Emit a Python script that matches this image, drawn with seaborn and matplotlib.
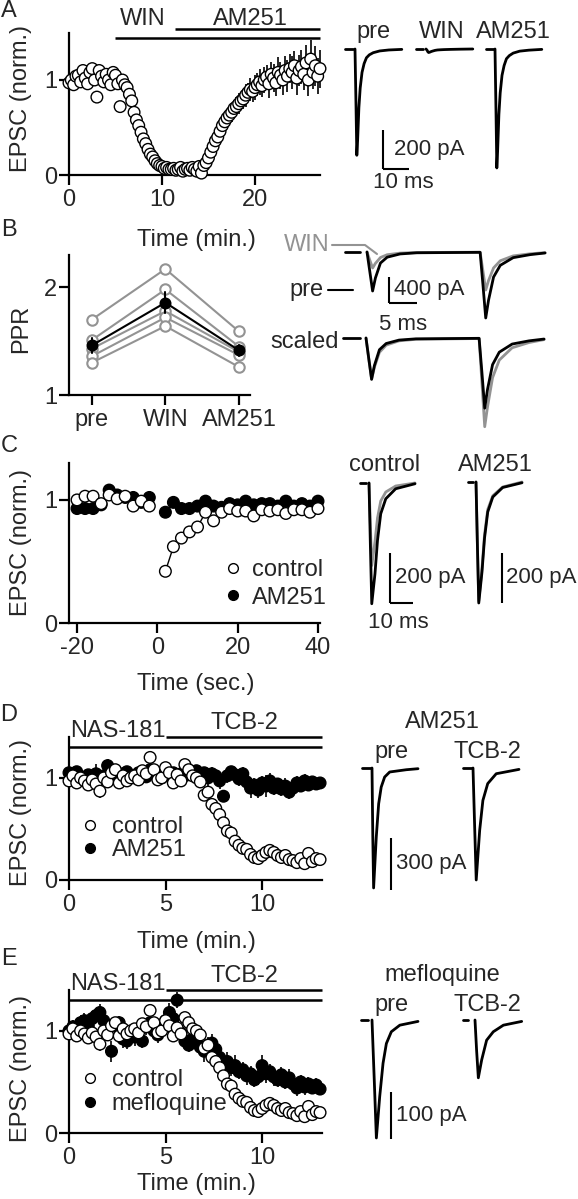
import numpy as np
import pandas as pd
import seaborn as sns
import matplotlib.pyplot as plt
from matplotlib.lines import Line2D

# --- Figure geometry (pixels at 100 dpi) ---
W, H = 578, 1199
FS = 17
FS_BAR = 16  # scale-bar labels
GRAY = '#939393'

# --- Panel A: WIN 55,212-2 then AM251, normalised EPSC, one sweep every 15 s ---
A_DT = 0.25
A_EPSC = [
    0.97, 1.00, 0.95, 1.04,  1.05, 0.98, 1.10, 1.02,  0.96, 1.08, 1.12, 1.00,
    0.82, 1.10, 1.04, 0.98,  1.06, 1.00, 0.95, 1.08,  1.05, 0.96, 0.72, 1.00,
    0.95, 0.92, 0.85, 0.78,  0.66, 0.58, 0.52, 0.45,  0.38, 0.33, 0.27, 0.22,
    0.19, 0.15, 0.12, 0.10,  0.09, 0.07, 0.08, 0.06,  0.06, 0.07, 0.05, 0.06,
    0.08, 0.04, 0.06, 0.07,  0.05, 0.08, 0.06, 0.04,  0.09, 0.02, 0.10, 0.13,
    0.18, 0.24, 0.30, 0.36,  0.40, 0.46, 0.52, 0.56,  0.60, 0.63, 0.66, 0.70,
    0.72, 0.75, 0.78, 0.80,  0.84, 0.87, 0.90, 0.88,  0.92, 0.95, 0.98, 0.94,
    1.00, 1.03, 0.96, 1.06,  1.02, 0.97, 1.08, 1.05,  1.00, 1.10, 1.04, 1.12,
    1.08, 1.15, 1.02, 1.10,  1.14, 1.06, 1.18, 1.00,  1.22, 1.08, 1.15, 1.04,
    1.12,
]
A_SEM = [
    0.04, 0.05, 0.04, 0.05,  0.04, 0.05, 0.04, 0.05,  0.05, 0.04, 0.05, 0.04,
    0.05, 0.04, 0.05, 0.04,  0.05, 0.04, 0.05, 0.04,  0.05, 0.04, 0.06, 0.04,
    0.04, 0.04, 0.04, 0.03,  0.03, 0.03, 0.03, 0.03,  0.03, 0.03, 0.02, 0.02,
    0.02, 0.02, 0.02, 0.02,  0.02, 0.02, 0.02, 0.02,  0.02, 0.02, 0.02, 0.02,
    0.02, 0.02, 0.02, 0.02,  0.02, 0.02, 0.02, 0.02,  0.02, 0.02, 0.03, 0.03,
    0.04, 0.05, 0.06, 0.05,  0.07, 0.06, 0.08, 0.07,  0.09, 0.08, 0.10, 0.09,
    0.10, 0.11, 0.09, 0.11,  0.12, 0.10, 0.12, 0.11,  0.13, 0.12, 0.14, 0.12,
    0.14, 0.13, 0.15, 0.13,  0.15, 0.14, 0.16, 0.14,  0.16, 0.15, 0.17, 0.15,
    0.17, 0.16, 0.18, 0.16,  0.18, 0.17, 0.19, 0.17,  0.20, 0.18, 0.21, 0.19,
    0.20,
]
A_WIN_ON = 4.95
A_AM251_ON = 11.4
A_END = 27.0

# --- Panel B: paired-pulse ratio, five cells ---
PPR_COND = ['pre', 'WIN', 'AM251']
PPR_PRE = [1.70, 1.51, 1.43, 1.36, 1.30]
PPR_WIN = [2.17, 1.98, 1.78, 1.72, 1.64]
PPR_AM251 = [1.59, 1.45, 1.40, 1.37, 1.26]

# --- Panel C: DSE, time in seconds around the depolarisation ---
C_T_PRE = [-20, -18, -16, -14, -12, -10, -8, -6, -4, -2]
C_T_POST = [2, 4, 6, 8, 10, 12, 14, 16, 18, 20, 22, 24, 26, 28, 30, 32, 34, 36, 38, 40]
C_CTRL_PRE = [1.00, 1.03, 1.03, 0.97, 1.04, 1.01, 1.03, 0.95, 0.99, 0.95]
C_AM_PRE = [0.93, 0.93, 0.93, 0.96, 1.08, 1.04, 1.02, 1.02, 0.98, 1.02]
C_CTRL_POST = [0.42, 0.62, 0.69, 0.74, 0.78, 0.90, 0.83, 0.90, 0.93, 0.91,
               0.91, 0.87, 0.92, 0.91, 0.92, 0.89, 0.92, 0.92, 0.90, 0.93]
C_AM_POST = [0.90, 0.98, 0.93, 0.93, 0.95, 0.99, 0.95, 0.94, 0.97, 0.96,
             0.99, 0.96, 0.97, 0.97, 0.95, 0.99, 0.95, 0.97, 0.95, 0.99]

# --- Panels D/E: NAS-181 then TCB-2, one sweep every 12 s ---
DE_DT = 0.2
TCB_ON = 5.0
DE_END = 13.1
CTRL_EPSC = [
    0.97, 1.02, 0.95, 1.00, 0.97, 0.93, 0.98, 0.94, 0.87, 1.00,
    0.96, 1.05, 1.08, 0.95, 1.02, 0.97, 1.00, 1.02, 0.98, 1.07,
    1.04, 1.20, 1.08, 0.98, 1.00, 1.10, 1.05, 0.95, 1.03, 0.97,
    1.13, 1.08, 1.02, 1.00, 0.96, 0.83, 0.86, 0.74, 0.70, 0.64,
    0.56, 0.48, 0.46, 0.38, 0.34, 0.31, 0.30, 0.25, 0.22, 0.21,
    0.24, 0.27, 0.29, 0.27, 0.24, 0.22, 0.24, 0.20, 0.19, 0.17,
    0.21, 0.16, 0.26, 0.18, 0.21, 0.20,
]
CTRL_SEM = [
    0.04, 0.05, 0.04, 0.06, 0.05, 0.05, 0.04, 0.06, 0.07, 0.05,
    0.05, 0.06, 0.05, 0.04, 0.05, 0.05, 0.04, 0.05, 0.04, 0.05,
    0.05, 0.06, 0.05, 0.04, 0.05, 0.05, 0.04, 0.05, 0.04, 0.05,
    0.05, 0.04, 0.04, 0.04, 0.04, 0.05, 0.04, 0.04, 0.04, 0.03,
    0.04, 0.03, 0.03, 0.03, 0.03, 0.03, 0.03, 0.03, 0.03, 0.03,
    0.03, 0.03, 0.03, 0.03, 0.03, 0.03, 0.03, 0.03, 0.03, 0.03,
    0.03, 0.03, 0.03, 0.03, 0.03, 0.03,
]
D_AM251 = [
    1.05, 1.02, 1.06, 1.00, 0.98, 1.03, 0.97, 1.04, 1.00, 1.02,
    1.12, 1.06, 1.03, 1.00, 1.04, 1.06, 1.02, 1.00, 1.05, 1.03,
    1.01, 1.08, 1.04, 1.02, 1.00, 1.06, 1.03, 1.05, 1.00, 1.04,
    1.02, 1.06, 1.04, 1.07, 1.03, 1.05, 1.00, 1.04, 1.02, 0.97,
    0.82, 1.02, 1.06, 1.03, 0.99, 1.04, 0.96, 0.90, 0.93, 0.88,
    0.95, 0.92, 0.97, 0.90, 0.94, 0.89, 0.92, 0.86, 0.90, 0.95,
    0.92, 0.97, 0.93, 0.96, 0.94, 0.95,
]
D_AM251_SEM = [
    0.05, 0.06, 0.05, 0.08, 0.06, 0.05, 0.07, 0.10, 0.06, 0.05,
    0.06, 0.05, 0.07, 0.05, 0.06, 0.05, 0.06, 0.05, 0.07, 0.05,
    0.06, 0.05, 0.08, 0.05, 0.06, 0.05, 0.06, 0.05, 0.07, 0.06,
    0.06, 0.05, 0.07, 0.06, 0.09, 0.06, 0.10, 0.07, 0.06, 0.08,
    0.06, 0.07, 0.06, 0.08, 0.07, 0.07, 0.08, 0.10, 0.07, 0.08,
    0.07, 0.11, 0.08, 0.07, 0.06, 0.07, 0.08, 0.07, 0.06, 0.07,
    0.06, 0.07, 0.06, 0.05, 0.06, 0.05,
]
E_MEFLO = [
    1.00, 1.04, 0.98, 1.08, 1.10, 1.05, 1.12, 1.15, 1.18, 1.10,
    1.02, 0.80, 1.05, 1.08, 0.92, 0.90, 0.98, 0.94, 1.02, 0.90,
    1.04, 1.08, 1.00, 0.96, 1.02, 1.10, 1.18, 1.12, 1.30, 0.98,
    0.90, 0.86, 0.92, 0.88, 0.84, 0.80, 0.86, 0.88, 0.82, 0.74,
    0.68, 0.70, 0.64, 0.66, 0.60, 0.62, 0.56, 0.58, 0.52, 0.55,
    0.66, 0.58, 0.60, 0.55, 0.52, 0.57, 0.50, 0.54, 0.48, 0.44,
    0.50, 0.45, 0.48, 0.44, 0.47, 0.43,
]
E_MEFLO_SEM = [
    0.06, 0.07, 0.06, 0.08, 0.07, 0.09, 0.07, 0.06, 0.08, 0.07,
    0.07, 0.10, 0.08, 0.07, 0.09, 0.08, 0.07, 0.09, 0.08, 0.07,
    0.08, 0.09, 0.07, 0.08, 0.07, 0.08, 0.09, 0.10, 0.08, 0.07,
    0.08, 0.07, 0.09, 0.08, 0.07, 0.10, 0.08, 0.09, 0.10, 0.08,
    0.07, 0.09, 0.08, 0.10, 0.07, 0.08, 0.09, 0.08, 0.07, 0.08,
    0.10, 0.09, 0.08, 0.09, 0.07, 0.08, 0.07, 0.09, 0.07, 0.08,
    0.07, 0.08, 0.07, 0.06, 0.07, 0.06,
]

# --- Example traces (time in ms from stimulus, current in pA) ---
A_TR_T = [0, 0.4, 0.7, 1.0, 1.5, 2.0, 2.7, 3.5, 4.4, 5.5, 7.0, 9.5, 13, 18]
A_TR_PRE = [0, -300, -545, -470, -300, -200, -120, -75, -45, -30, -19, -10, -5, -2]
A_TR_WIN = [0, -6, -14, -18, -16, -13, -10, -7, -5, -4, -3, -2, -1, 0]
A_TR_AM251 = [0, -335, -610, -525, -335, -225, -135, -85, -50, -34, -21, -11, -6, -2]

B_TR_T = [0, 0.5, 1.0, 1.5, 2.4, 3.6, 5.9, 8.9, 20.2, 20.7, 21.2, 21.7, 22.6, 23.8, 26.1, 29.1, 31.8]
B_TR_PRE = [0, -300, -600, -400, -170, -80, -30, -12, -5, -500, -1015, -743, -385, -205, -87, -41, -15]
B_TR_WIN = [0, -125, -246, -175, -85, -42, -17, -8, -3, -290, -585, -440, -245, -135, -60, -28, -10]
B_TR_PRE_SC = [0, -320, -635, -425, -180, -85, -32, -13, -5, -530, -1080, -790, -410, -218, -93, -44, -16]
B_TR_WIN_SC = [0, -325, -635, -450, -220, -110, -44, -20, -8, -690, -1365, -1060, -610, -340, -150, -70, -25]

C_TR_T = [0, 0.6, 1.2, 2.6, 3.7, 5.1, 7.3, 11.6, 20]
C_TR_CTRL_PRE = [0, -250, -483, -363, -229, -123, -63, -23, -3]
C_TR_CTRL_POST = [0, -170, -330, -235, -140, -72, -36, -12, 0]
C_TR_AM_PRE = [0, -250, -484, -360, -225, -120, -60, -22, -3]
C_TR_AM_POST = [0, -245, -476, -345, -212, -110, -55, -20, 0]

D_TR_PRE_T = [0, 0.35, 0.7, 1.86, 2.9, 4.0, 5.5, 7.7, 14.9, 20]
D_TR_PRE = [0, -400, -692, -398, -206, -110, -52, -23, -10, -4]
D_TR_TCB_T = [0, 0.7, 1.4, 2.9, 4.3, 6.4, 10.1, 20]
D_TR_TCB = [0, -330, -646, -360, -187, -90, -33, -8]

E_TR_PRE_T = [0, 1.0, 1.9, 3.35, 4.8, 6.25, 8.4, 12.1, 20]
E_TR_PRE = [0, -130, -251, -163, -92, -50, -25, -11, -3]
E_TR_TCB_T = [0, 0.7, 1.45, 2.9, 5.05, 7.95, 12.35, 20.3]
E_TR_TCB = [0, -65, -123, -85, -43, -25, -11, -3]


def px_axes(fig, l, t, r, b):
    return fig.add_axes([l / W, 1 - b / H, (r - l) / W, (b - t) / H])


def fig_text(fig, x, y, s, ha='center', va='center', size=FS, **kw):
    fig.text(x / W, 1 - y / H, s, ha=ha, va=va, fontsize=size, **kw)


def style_axes(ax):
    sns.despine(ax=ax)
    for side in ('left', 'bottom'):
        ax.spines[side].set_linewidth(1.6)
    ax.tick_params(length=7.5, width=1.6, labelsize=FS, color='black')
    ax.tick_params(axis='x', pad=2.5)
    ax.tick_params(axis='y', pad=1)


def set_labels(fig, ax, xlabel, xpos, ylabel, ypos):
    ax.set_xlabel(xlabel or '', fontsize=FS, va='center')
    if xlabel:
        ax.xaxis.set_label_coords(xpos[0] / W, 1 - xpos[1] / H, transform=fig.transFigure)
    ax.set_ylabel(ylabel, fontsize=FS, va='center')
    ax.yaxis.set_label_coords(ypos[0] / W, 1 - ypos[1] / H, transform=fig.transFigure)


def drug_bar(ax, x0, x1, y):
    ax.plot([x0, x1], [y, y], color='black', lw=1.8, clip_on=False, solid_capstyle='butt')


def timecourse(ax, df, palette, order):
    for grp in order:
        sub = df[df['group'] == grp]
        ax.errorbar(sub['time'], sub['epsc'], yerr=sub['sem'], fmt='none', ecolor='black',
                    elinewidth=1.2, capsize=0, zorder=1, clip_on=False)
    sns.scatterplot(data=df, x='time', y='epsc', hue='group', hue_order=order, palette=palette,
                    edgecolor='black', linewidth=1.0, s=70, legend=False, clip_on=False,
                    zorder=3, ax=ax)


def add_legend(fig, ax, labels, anchor, pad, spacing):
    handles = [Line2D([], [], ls='', marker='o', ms=7, mfc=fc, mec='black', mew=1.0)
               for fc in ('white', 'black')]
    ax.legend(handles, labels, loc='upper left', bbox_to_anchor=(anchor[0] / W, 1 - anchor[1] / H),
              bbox_transform=fig.transFigure, frameon=False, fontsize=FS, handlelength=1.0,
              handletextpad=pad, labelspacing=spacing, borderpad=0, borderaxespad=0)


class TracePanel:
    """Invisible axes whose data units are ms and pA, placed by pixel origin."""

    def __init__(self, fig, rect, origin, ms_px, pa_px):
        l, t, r, b = rect
        self.ax = px_axes(fig, l, t, r, b)
        self.ox, self.oy = origin
        self.ms, self.pa = ms_px, pa_px
        self.ax.set_xlim((l - self.ox) * ms_px, (r - self.ox) * ms_px)
        self.ax.set_ylim((self.oy - b) * pa_px, (self.oy - t) * pa_px)
        self.ax.axis('off')

    def t(self, x):
        return (x - self.ox) * self.ms

    def i(self, y):
        return (self.oy - y) * self.pa

    def trace(self, t, cur, x, y, dash=None, color='black'):
        t0, i0 = self.t(x), self.i(y)
        sns.lineplot(x=np.asarray(t, float) + t0, y=np.asarray(cur, float) + i0, sort=False,
                     estimator=None, color=color, linewidth=2.0, ax=self.ax)
        if dash:
            self.ax.plot([self.t(x + dash[0]), self.t(x + dash[1])], [i0, i0], color='black', lw=2.0)

    def scalebar(self, x, y, pa, ms=None):
        t0, i0 = self.t(x), self.i(y)
        self.ax.plot([t0, t0], [i0, i0 + pa], color='black', lw=1.5, solid_capstyle='butt')
        if ms:
            self.ax.plot([t0, t0 + ms], [i0, i0], color='black', lw=1.5, solid_capstyle='butt')

    def polyline(self, pts, color):
        self.ax.plot([self.t(p[0]) for p in pts], [self.i(p[1]) for p in pts], color=color, lw=1.5)


sns.set_style('ticks')
plt.rcParams['font.family'] = ['Liberation Sans', 'DejaVu Sans']
plt.rcParams['axes.edgecolor'] = 'black'
plt.rcParams['axes.unicode_minus'] = False

fig = plt.figure(figsize=(W / 100, H / 100), dpi=100)

# ---------------- A ----------------
ax = px_axes(fig, 69, 32.5, 320, 175)
a_df = pd.DataFrame({'time': np.arange(len(A_EPSC)) * A_DT, 'epsc': A_EPSC,
                     'sem': A_SEM, 'group': 'WIN'})
timecourse(ax, a_df, {'WIN': 'white'}, ['WIN'])
ax.set_xlim(0, 27)
ax.set_ylim(0, 1.5)
ax.set_xticks([0, 10, 20])
ax.set_yticks([0, 1])
style_axes(ax)
drug_bar(ax, A_WIN_ON, A_END, 1.44)
drug_bar(ax, A_AM251_ON, A_END, 1.54)
ax.text(7.96, 1.64, 'WIN', ha='center', va='center', fontsize=FS)
ax.text(19.5, 1.64, 'AM251', ha='center', va='center', fontsize=FS)
set_labels(fig, ax, 'Time (min.)', (196, 240), 'EPSC (norm.)', (21, 99))

tp = TracePanel(fig, (335, 0, 578, 215), (355, 49), 10 / 26, 200 / 39)
tp.trace(A_TR_T, A_TR_PRE, 355, 49, dash=(-10, -2))
tp.trace(A_TR_T, A_TR_WIN, 426, 49, dash=(-10, -3))
tp.trace(A_TR_T, A_TR_AM251, 495, 49, dash=(-9, -1))
tp.scalebar(383, 169, 200, 10)
fig_text(fig, 373, 32, 'pre')
fig_text(fig, 442, 32, 'WIN')
fig_text(fig, 513, 32, 'AM251')
fig_text(fig, 394, 149, '200 pA', ha='left', size=FS_BAR)
fig_text(fig, 403, 182, '10 ms', size=FS_BAR)

# ---------------- B ----------------
ax = px_axes(fig, 69, 255, 250, 395)
ppr_df = pd.DataFrame({
    'cell': list(range(5)) * 3,
    'pos': [0] * 5 + [1] * 5 + [2] * 5,
    'ppr': PPR_PRE + PPR_WIN + PPR_AM251,
})
sns.lineplot(data=ppr_df, x='pos', y='ppr', units='cell', estimator=None, color=GRAY,
             linewidth=1.5, marker='o', markersize=7.5, markerfacecolor='white',
             markeredgecolor=GRAY, markeredgewidth=1.5, ax=ax)
sns.pointplot(data=ppr_df, x='pos', y='ppr', native_scale=True, errorbar='se', color='black',
              markersize=7.5, linewidth=1.5, err_kws={'linewidth': 1.5}, ax=ax)
ax.set_xlim(-0.31, 2.15)
ax.set_ylim(1, 2.3)
ax.set_xticks([0, 1, 2], PPR_COND)
ax.set_yticks([1, 2])
style_axes(ax)
set_labels(fig, ax, None, None, 'PPR', (21, 329))

tp = TracePanel(fig, (260, 225, 578, 440), (367, 252), 5 / 28, 400 / 26)
tp.trace(B_TR_T, B_TR_WIN, 367, 252, color=GRAY)
tp.trace(B_TR_T, B_TR_PRE, 367, 252, dash=(-22, -7))
tp.trace(B_TR_T, B_TR_WIN_SC, 366, 338, color=GRAY)
tp.trace(B_TR_T, B_TR_PRE_SC, 366, 338, dash=(-23, -6))
tp.scalebar(389, 303, 400, 5)
tp.polyline([(332, 245), (365, 245), (377, 254)], GRAY)
tp.polyline([(328, 290), (353, 290)], 'black')
fig_text(fig, 330, 245, 'WIN', color=GRAY, ha='right')
fig_text(fig, 324, 290, 'pre', ha='right')
fig_text(fig, 339, 342, 'scaled', ha='right')
fig_text(fig, 394, 289, '400 pA', ha='left', size=FS_BAR)
fig_text(fig, 403, 324, '5 ms', size=FS_BAR)

# ---------------- C ----------------
ax = px_axes(fig, 69, 463, 320, 623)
c_df = pd.concat([
    pd.DataFrame({'time': C_T_PRE, 'epsc': C_AM_PRE, 'group': 'AM251', 'seg': 0}),
    pd.DataFrame({'time': C_T_POST, 'epsc': C_AM_POST, 'group': 'AM251', 'seg': 1}),
    pd.DataFrame({'time': C_T_PRE, 'epsc': C_CTRL_PRE, 'group': 'control', 'seg': 0}),
    pd.DataFrame({'time': C_T_POST, 'epsc': C_CTRL_POST, 'group': 'control', 'seg': 1}),
], ignore_index=True)
for _, sub in c_df.groupby(['group', 'seg']):
    sns.lineplot(data=sub, x='time', y='epsc', color='black', linewidth=1.0, sort=False,
                 estimator=None, zorder=1, ax=ax)
sns.scatterplot(data=c_df, x='time', y='epsc', hue='group', hue_order=['AM251', 'control'],
                palette={'AM251': 'black', 'control': 'white'}, edgecolor='black',
                linewidth=1.0, s=70, legend=False, clip_on=False, zorder=3, ax=ax)
ax.set_xlim(-22, 40.5)
ax.set_ylim(0, 1.3)
ax.set_xticks([-20, 0, 20, 40])
ax.set_yticks([0, 1])
style_axes(ax)
add_legend(fig, ax, ['control', 'AM251'], (221, 559), 0.3, 0.24)
set_labels(fig, ax, 'Time (sec.)', (196, 684), 'EPSC (norm.)', (21, 542))

tp = TracePanel(fig, (340, 450, 578, 640), (369, 483), 10 / 23, 200 / 50)
tp.trace(C_TR_T, C_TR_CTRL_POST, 369, 483, color=GRAY)
tp.trace(C_TR_T, C_TR_CTRL_PRE, 369, 483, dash=(-9, -3))
tp.trace(C_TR_T, C_TR_AM_POST, 476, 482, color=GRAY)
tp.trace(C_TR_T, C_TR_AM_PRE, 476, 482, dash=(-8, -3))
tp.scalebar(390, 603, 200, 10)
tp.scalebar(502, 603, 200)
fig_text(fig, 385, 465, 'control')
fig_text(fig, 495, 465, 'AM251')
fig_text(fig, 395, 577, '200 pA', ha='left', size=FS_BAR)
fig_text(fig, 506, 577, '200 pA', ha='left', size=FS_BAR)
fig_text(fig, 398, 623, '10 ms', size=FS_BAR)

# ---------------- D / E ----------------
de_time = np.arange(len(CTRL_EPSC)) * DE_DT
for name, drug, drug_epsc, drug_sem, top, label_y, leg_y, spacing, xlab_y in [
    ('D', 'AM251', D_AM251, D_AM251_SEM, 737, 812, 816, 0.05, 942),
    ('E', 'mefloquine', E_MEFLO, E_MEFLO_SEM, 990, 1069, 1069, 0.09, 1184),
]:
    ax = px_axes(fig, 69, top, 322, top + 143)
    df = pd.concat([
        pd.DataFrame({'time': de_time, 'epsc': drug_epsc, 'sem': drug_sem, 'group': drug}),
        pd.DataFrame({'time': de_time, 'epsc': CTRL_EPSC, 'sem': CTRL_SEM, 'group': 'control'}),
    ], ignore_index=True)
    timecourse(ax, df, {drug: 'black', 'control': 'white'}, [drug, 'control'])
    ax.set_xlim(0, DE_END)
    ax.set_ylim(0, 1.4)
    ax.set_xticks([0, 5, 10])
    ax.set_yticks([0, 1])
    style_axes(ax)
    drug_bar(ax, 0, DE_END, 1.30)
    drug_bar(ax, TCB_ON, DE_END, 1.40)
    ax.text(2.54, 1.46, 'NAS-181', ha='center', va='center', fontsize=FS)
    ax.text(9.1, 1.54, 'TCB-2', ha='center', va='center', fontsize=FS)
    add_legend(fig, ax, ['control', drug], (78, leg_y), 0.43, spacing)
    set_labels(fig, ax, 'Time (min.)', (196, xlab_y), 'EPSC (norm.)', (21, label_y))

tp = TracePanel(fig, (340, 700, 578, 910), (372, 768), 10 / 23, 300 / 52)
tp.trace(D_TR_PRE_T, D_TR_PRE, 372, 768, dash=(-10, -1))
tp.trace(D_TR_TCB_T, D_TR_TCB, 473, 768, dash=(-10, -1))
tp.scalebar(391, 890, 300)
fig_text(fig, 442, 722, 'AM251')
fig_text(fig, 392, 752, 'pre')
fig_text(fig, 487, 752, 'TCB-2')
fig_text(fig, 396, 863, '300 pA', ha='left', size=FS_BAR)

tp = TracePanel(fig, (340, 955, 578, 1160), (372, 1020), 10 / 23, 100 / 47)
tp.trace(E_TR_PRE_T, E_TR_PRE, 372, 1020, dash=(-11, -4))
tp.trace(E_TR_TCB_T, E_TR_TCB, 475, 1020, dash=(-12, -7))
tp.scalebar(391, 1139, 100)
fig_text(fig, 442, 975, 'mefloquine')
fig_text(fig, 392, 1005, 'pre')
fig_text(fig, 487, 1005, 'TCB-2')
fig_text(fig, 396, 1116, '100 pA', ha='left', size=FS_BAR)

# panel letters
for letter, y in [('A', 11), ('B', 230), ('C', 446), ('D', 715), ('E', 959)]:
    fig_text(fig, 9, y, letter)

fig.savefig('out.png', dpi=100, facecolor='white')
